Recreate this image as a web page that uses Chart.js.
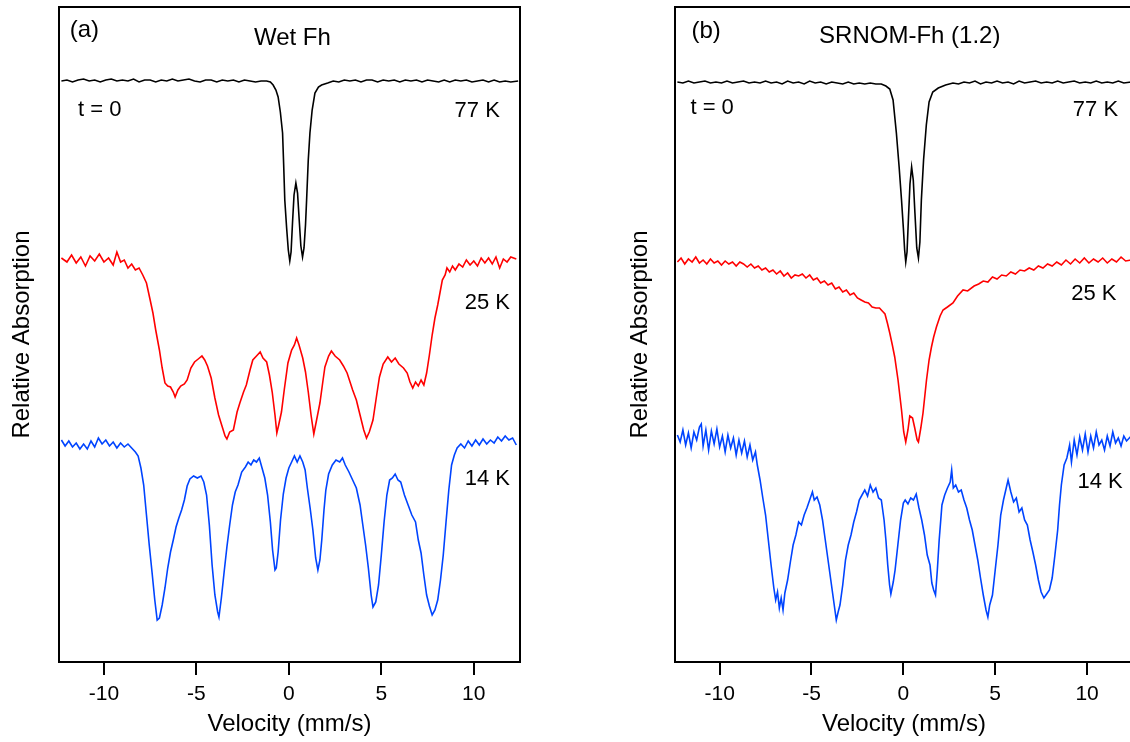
<!DOCTYPE html>
<html>
<head>
<meta charset="utf-8">
<script src="https://cdn.jsdelivr.net/npm/chart.js@4.4.1/dist/chart.umd.min.js"></script>
<style>
html,body{margin:0;padding:0;background:#fff;overflow:hidden;}
#wrap{position:relative;width:1130px;height:742px;overflow:hidden;background:#fff;}
.panel{position:absolute;top:0;height:742px;}
canvas{display:block;}
</style>
</head>
<body>
<div id="wrap">
  <div class="panel" style="left:0;width:560px"><canvas id="chartA" width="560" height="742"></canvas></div>
  <div class="panel" style="left:592px;width:590px"><canvas id="chartB" width="590" height="742"></canvas></div>
</div>
<script>
// ---------------- DATA (velocity mm/s, relative absorption with vertical offsets) ----------------
const tickValues = [-10, -5, 0, 5, 10];
const velocityRange = [-12.43, 12.5];
const absorptionRange = [0, 65.5];

// Panel (a) Wet Fh
const wet77K = [
[-12.3,58.1],[-12.0,58.2],[-11.7,58.0],[-11.4,58.2],[-11.1,58.3],[-10.8,58.1],[-10.5,58.2],[-10.2,58.0],[-9.9,58.2],[-9.6,58.3],[-9.3,58.1],[-9.0,58.2],[-8.7,58.1],[-8.4,58.3],[-8.1,58.0],[-7.8,58.2],[-7.5,58.2],[-7.2,58.0],[-6.9,58.2],[-6.6,58.1],[-6.3,58.3],[-6.0,58.1],[-5.7,58.2],[-5.4,58.3],[-5.1,58.1],[-4.8,58.0],[-4.5,58.2],[-4.2,58.2],[-3.9,58.0],[-3.6,58.2],[-3.3,58.1],[-3.0,58.2],[-2.7,58.0],[-2.4,58.2],[-2.1,58.1],[-1.8,58.0],[-1.5,58.1],
[-1.2,58.1],[-1.0,58.0],[-0.85,57.7],[-0.7,57.2],[-0.58,56.5],[-0.46,55.0],[-0.34,52.9],[-0.28,49.7],[-0.22,46.2],[-0.12,43.4],[-0.03,41.2],[0.05,40.1],[0.12,41.0],[0.2,44.0],[0.28,46.7],[0.38,47.9],[0.47,46.9],[0.56,44.2],[0.65,41.6],[0.74,40.5],[0.82,41.4],[0.9,43.7],[0.96,46.2],[1.05,50.2],[1.14,52.9],[1.26,55.2],[1.41,56.9],[1.6,57.5],[1.77,57.7],[2.1,57.9],
[2.4,58.1],[2.7,58.0],[3.0,58.2],[3.3,58.1],[3.6,58.2],[3.9,58.0],[4.2,58.2],[4.5,58.2],[4.8,58.0],[5.1,58.2],[5.4,58.1],[5.7,58.2],[6.0,58.0],[6.3,58.2],[6.6,58.1],[6.9,58.2],[7.2,58.0],[7.5,58.2],[7.8,58.1],[8.1,58.0],[8.4,58.2],[8.7,58.0],[9.0,58.2],[9.3,58.1],[9.6,58.2],[9.9,58.0],[10.2,58.1],[10.5,58.2],[10.8,58.0],[11.1,58.2],[11.4,58.0],[11.7,58.1],[12.0,58.0],[12.4,58.1]
];
const wet25K = [
[-12.3,40.4],[-12.0,40.0],[-11.75,40.7],[-11.5,39.9],[-11.25,40.5],[-11.0,39.6],[-10.75,40.6],[-10.5,40.1],[-10.25,40.8],[-10.0,40.0],[-9.75,40.4],[-9.5,39.7],[-9.3,41.0],[-9.1,40.0],[-8.9,40.2],[-8.7,39.4],[-8.5,39.8],[-8.3,39.2],[-8.1,39.4],[-7.9,38.7],[-7.7,37.9],[-7.5,36.2],[-7.35,34.9],[-7.2,33.2],[-7.0,31.2],[-6.85,29.4],[-6.7,27.9],[-6.55,27.6],[-6.4,27.5],[-6.25,27.0],[-6.15,26.5],[-6.0,27.2],[-5.85,27.6],[-5.65,27.8],[-5.5,28.2],[-5.3,29.4],[-5.1,30.0],[-4.9,30.3],[-4.7,30.6],[-4.55,30.2],[-4.4,29.6],[-4.2,28.4],[-4.0,26.4],[-3.8,24.7],[-3.6,23.5],[-3.45,22.6],[-3.35,22.3],[-3.2,23.0],[-3.0,23.2],[-2.8,25.0],[-2.65,25.9],[-2.45,27.0],[-2.3,27.7],[-2.1,29.2],[-1.95,30.2],[-1.75,30.6],[-1.55,31.0],[-1.4,30.4],[-1.2,30.0],[-1.05,28.7],[-0.9,27.0],[-0.75,24.7],[-0.65,22.9],[-0.55,23.7],[-0.4,25.0],[-0.25,27.2],[-0.05,29.9],[0.15,31.2],[0.3,31.7],[0.42,32.4],[0.55,31.7],[0.75,30.4],[0.9,29.0],[1.05,27.0],[1.2,24.7],[1.35,22.8],[1.5,24.2],[1.68,25.9],[1.85,28.2],[1.95,29.5],[2.15,30.6],[2.3,31.1],[2.5,30.6],[2.75,30.2],[2.95,29.6],[3.15,28.9],[3.45,27.2],[3.65,26.2],[3.85,24.7],[4.05,23.2],[4.2,22.4],[4.35,23.0],[4.55,24.2],[4.75,26.7],[4.9,28.5],[5.1,29.8],[5.35,30.5],[5.55,30.0],[5.75,30.4],[5.95,29.8],[6.2,29.4],[6.4,28.9],[6.55,28.0],[6.7,27.4],[6.85,28.0],[7.0,27.6],[7.15,28.2],[7.3,27.7],[7.45,28.9],[7.6,30.7],[7.75,32.7],[7.9,34.4],[8.05,35.7],[8.2,37.2],[8.3,38.2],[8.45,38.7],[8.55,39.4],[8.7,39.0],[8.85,39.6],[9.0,39.2],[9.2,39.8],[9.4,39.5],[9.6,40.2],[9.8,39.7],[10.0,40.1],[10.2,39.6],[10.4,40.4],[10.6,39.9],[10.8,40.4],[11.0,39.8],[11.2,40.5],[11.4,39.4],[11.6,40.3],[11.8,40.0],[12.0,40.5],[12.3,40.3]
];
const wet14K = [
[-12.3,22.2],[-12.1,21.6],[-11.9,22.1],[-11.7,21.5],[-11.5,21.9],[-11.3,21.3],[-11.1,21.8],[-10.9,21.3],[-10.7,22.1],[-10.5,21.5],[-10.3,22.4],[-10.1,21.8],[-9.9,22.2],[-9.7,21.6],[-9.5,22.0],[-9.3,21.4],[-9.1,21.9],[-8.9,21.5],[-8.7,21.8],[-8.5,21.4],[-8.3,21.0],[-8.15,20.6],[-8.0,19.4],[-7.85,17.7],[-7.7,14.7],[-7.55,11.7],[-7.4,9.0],[-7.25,6.2],[-7.12,4.2],[-7.0,4.4],[-6.85,5.7],[-6.7,7.4],[-6.55,9.4],[-6.4,11.0],[-6.25,12.2],[-6.1,13.5],[-5.95,14.4],[-5.8,15.2],[-5.65,16.2],[-5.5,17.6],[-5.35,18.3],[-5.15,18.6],[-4.95,18.4],[-4.75,18.6],[-4.6,18.0],[-4.45,16.7],[-4.3,13.7],[-4.15,9.7],[-4.0,6.7],[-3.85,5.0],[-3.78,4.5],[-3.65,6.4],[-3.5,9.0],[-3.35,11.5],[-3.2,13.7],[-3.05,15.7],[-2.9,17.0],[-2.75,17.7],[-2.55,19.0],[-2.35,19.5],[-2.2,20.0],[-2.05,19.7],[-1.9,20.2],[-1.75,20.0],[-1.6,20.4],[-1.45,19.4],[-1.3,18.4],[-1.15,16.7],[-1.0,14.0],[-0.88,11.2],[-0.75,9.2],[-0.68,9.4],[-0.58,11.0],[-0.45,14.2],[-0.3,16.8],[-0.15,18.4],[0.0,19.4],[0.15,20.0],[0.3,20.6],[0.45,20.0],[0.6,20.6],[0.75,20.0],[0.88,19.2],[1.0,17.4],[1.15,15.4],[1.3,13.2],[1.45,10.4],[1.57,9.2],[1.68,10.2],[1.78,12.2],[1.9,15.2],[2.0,17.2],[2.15,18.8],[2.35,19.7],[2.55,20.2],[2.75,20.0],[2.9,20.4],[3.05,19.7],[3.25,19.0],[3.45,18.2],[3.65,17.4],[3.85,15.7],[4.0,13.7],[4.15,11.7],[4.3,9.4],[4.45,6.7],[4.55,5.5],[4.7,6.0],[4.85,7.7],[5.0,10.7],[5.15,14.0],[5.3,16.7],[5.45,18.2],[5.6,18.4],[5.75,18.8],[5.9,18.2],[6.05,18.0],[6.25,16.7],[6.45,15.7],[6.65,14.7],[6.85,14.0],[7.0,12.2],[7.15,10.9],[7.3,8.7],[7.45,6.7],[7.6,5.6],[7.75,4.7],[7.9,5.2],[8.05,6.2],[8.2,8.2],[8.35,10.7],[8.5,14.0],[8.65,17.2],[8.8,19.7],[8.95,20.7],[9.1,21.4],[9.3,21.8],[9.5,21.4],[9.7,22.1],[9.9,21.6],[10.1,22.2],[10.3,21.7],[10.5,22.3],[10.7,21.8],[10.9,22.2],[11.1,21.9],[11.3,22.5],[11.5,22.1],[11.7,22.6],[11.9,22.2],[12.1,22.4],[12.3,21.7]
];

// Panel (b) SRNOM-Fh (1.2)
const srnom77K = [
[-12.3,58.0],[-12.0,57.9],[-11.7,58.1],[-11.4,57.9],[-11.1,58.0],[-10.8,58.1],[-10.5,57.9],[-10.2,58.0],[-9.9,57.9],[-9.6,58.1],[-9.3,57.9],[-9.0,58.0],[-8.7,58.1],[-8.4,57.9],[-8.1,58.0],[-7.8,57.9],[-7.5,58.1],[-7.2,57.9],[-6.9,58.0],[-6.6,57.8],[-6.3,58.1],[-6.0,57.9],[-5.7,58.0],[-5.4,57.8],[-5.1,58.1],[-4.8,57.9],[-4.5,58.0],[-4.2,57.8],[-3.9,58.0],[-3.6,57.9],[-3.3,57.8],[-3.0,58.0],[-2.7,57.8],[-2.4,57.9],[-2.1,57.8],[-1.8,57.9],[-1.5,57.8],
[-1.2,57.8],[-0.95,57.6],[-0.74,57.3],[-0.56,56.2],[-0.38,52.9],[-0.23,49.5],[-0.1,46.2],[0.0,43.4],[0.07,41.2],[0.13,40.0],[0.2,41.0],[0.28,44.5],[0.36,47.8],[0.45,49.5],[0.54,48.2],[0.63,44.9],[0.73,41.4],[0.82,40.4],[0.9,42.0],[0.98,46.2],[1.1,50.2],[1.25,53.7],[1.4,56.0],[1.6,57.0],[1.9,57.4],[2.3,57.7],
[2.7,57.9],[3.0,57.8],[3.3,58.0],[3.6,57.9],[3.9,58.1],[4.2,57.8],[4.5,58.0],[4.8,57.9],[5.1,58.1],[5.4,57.9],[5.7,58.0],[6.0,57.8],[6.3,58.1],[6.6,57.9],[6.9,58.0],[7.2,58.1],[7.5,57.9],[7.8,58.0],[8.1,57.9],[8.4,58.1],[8.7,57.9],[9.0,58.0],[9.3,58.1],[9.6,57.9],[9.9,58.0],[10.2,57.9],[10.5,58.1],[10.8,57.9],[11.1,58.0],[11.4,57.9],[11.7,58.1],[12.0,57.9],[12.4,58.0]
];
const srnom25K = [
[-12.3,40.0],[-12.1,40.4],[-11.9,39.8],[-11.7,40.3],[-11.5,40.0],[-11.3,40.5],[-11.1,39.9],[-10.9,40.2],[-10.7,39.8],[-10.5,40.3],[-10.3,39.9],[-10.1,40.1],[-9.9,39.7],[-9.7,40.1],[-9.5,39.8],[-9.3,40.0],[-9.1,39.6],[-8.9,40.0],[-8.7,39.8],[-8.5,39.5],[-8.3,39.8],[-8.1,39.4],[-7.9,39.6],[-7.7,39.2],[-7.5,39.4],[-7.3,39.0],[-7.1,39.2],[-6.9,38.8],[-6.7,39.1],[-6.5,38.6],[-6.3,38.9],[-6.1,38.4],[-5.9,38.7],[-5.7,38.6],[-5.5,38.8],[-5.3,38.4],[-5.1,38.7],[-4.9,38.2],[-4.7,38.4],[-4.5,37.9],[-4.3,38.1],[-4.1,37.7],[-3.9,37.9],[-3.7,37.3],[-3.5,37.5],[-3.3,37.0],[-3.1,37.2],[-2.9,36.7],[-2.7,36.9],[-2.5,36.4],[-2.3,36.2],[-2.1,36.0],[-1.9,35.9],[-1.7,35.5],[-1.5,35.4],[-1.3,35.4],[-1.15,35.1],[-1.0,34.8],[-0.87,33.9],[-0.74,32.9],[-0.6,31.7],[-0.47,30.5],[-0.29,28.2],[-0.1,25.2],[0.02,23.0],[0.13,22.0],[0.25,23.2],[0.35,24.6],[0.5,24.4],[0.62,23.4],[0.75,22.2],[0.82,22.0],[0.95,23.4],[1.07,24.9],[1.26,28.2],[1.4,30.2],[1.53,31.5],[1.65,32.5],[1.8,33.5],[2.0,34.6],[2.16,35.2],[2.4,35.5],[2.7,35.9],[2.95,36.6],[3.25,37.2],[3.5,37.1],[3.85,37.6],[4.1,37.8],[4.35,38.1],[4.6,38.0],[4.85,38.5],[5.1,38.3],[5.35,38.7],[5.6,38.6],[5.85,39.0],[6.1,38.8],[6.35,39.2],[6.6,39.1],[6.85,39.4],[7.1,39.2],[7.35,39.6],[7.6,39.4],[7.85,39.8],[8.1,39.6],[8.35,40.0],[8.6,39.7],[8.85,40.2],[9.1,39.8],[9.35,40.3],[9.6,39.9],[9.85,40.4],[10.1,39.9],[10.35,40.3],[10.6,40.0],[10.85,40.4],[11.1,39.9],[11.35,40.3],[11.6,40.0],[11.85,40.5],[12.1,40.1],[12.4,40.2]
];
const srnom14K = [
[-12.3,22.7],[-12.15,22.0],[-12.0,23.2],[-11.85,21.7],[-11.7,22.9],[-11.55,21.4],[-11.4,23.0],[-11.25,22.2],[-11.1,23.5],[-11.0,23.8],[-10.9,21.6],[-10.75,23.2],[-10.6,21.2],[-10.45,23.1],[-10.3,21.8],[-10.15,23.3],[-10.0,21.5],[-9.85,22.6],[-9.7,21.0],[-9.55,22.7],[-9.4,21.4],[-9.25,22.4],[-9.1,20.7],[-8.95,22.2],[-8.8,20.9],[-8.65,22.1],[-8.5,20.5],[-8.35,21.7],[-8.2,20.2],[-8.05,21.0],[-7.95,19.7],[-7.8,18.2],[-7.65,16.4],[-7.5,14.7],[-7.35,12.2],[-7.2,9.7],[-7.05,7.4],[-6.95,6.2],[-6.85,7.0],[-6.75,5.4],[-6.65,6.4],[-6.55,5.2],[-6.45,6.9],[-6.3,8.2],[-6.15,10.0],[-6.0,11.7],[-5.85,12.7],[-5.7,14.0],[-5.55,13.7],[-5.4,14.7],[-5.25,15.4],[-5.1,16.2],[-4.95,17.0],[-4.85,16.2],[-4.7,16.5],[-4.55,15.7],[-4.4,14.2],[-4.25,12.2],[-4.1,10.2],[-3.95,8.2],[-3.8,6.2],[-3.65,4.2],[-3.55,5.0],[-3.45,5.7],[-3.3,7.7],[-3.15,10.2],[-3.0,11.7],[-2.85,12.7],[-2.7,14.0],[-2.55,15.0],[-2.4,16.2],[-2.25,16.7],[-2.1,17.2],[-1.95,16.6],[-1.8,17.7],[-1.65,17.0],[-1.5,17.4],[-1.35,16.4],[-1.2,16.2],[-1.05,14.2],[-0.95,12.2],[-0.85,9.7],[-0.75,7.7],[-0.68,6.8],[-0.55,8.0],[-0.45,9.2],[-0.3,11.7],[-0.15,14.2],[0.0,15.9],[0.1,16.2],[0.25,15.8],[0.4,16.4],[0.55,16.2],[0.7,16.8],[0.85,15.4],[1.0,14.2],[1.15,12.7],[1.3,10.7],[1.45,9.7],[1.55,7.9],[1.65,7.2],[1.75,6.7],[1.85,9.2],[1.95,12.2],[2.1,15.7],[2.25,16.7],[2.4,17.4],[2.55,18.0],[2.63,19.2],[2.72,17.4],[2.85,17.7],[3.0,17.0],[3.15,17.2],[3.3,16.2],[3.45,15.4],[3.6,14.2],[3.75,13.2],[3.9,11.7],[4.05,10.2],[4.2,8.4],[4.35,6.7],[4.5,5.2],[4.6,4.5],[4.7,5.7],[4.85,6.7],[5.0,9.2],[5.15,11.7],[5.3,14.7],[5.45,16.2],[5.6,17.4],[5.7,18.2],[5.85,17.0],[6.0,16.0],[6.15,16.4],[6.3,15.0],[6.45,15.4],[6.6,14.2],[6.75,13.7],[6.9,12.2],[7.05,11.0],[7.2,9.7],[7.35,8.2],[7.5,7.0],[7.65,6.4],[7.8,6.8],[7.95,7.2],[8.1,8.4],[8.25,10.7],[8.4,13.2],[8.5,15.7],[8.6,17.7],[8.75,19.7],[8.9,20.4],[9.05,21.7],[9.15,20.0],[9.3,22.2],[9.45,20.7],[9.6,22.5],[9.75,21.2],[9.9,22.8],[10.05,21.0],[10.2,22.6],[10.35,21.4],[10.5,23.0],[10.65,21.7],[10.8,22.2],[10.95,21.2],[11.1,22.6],[11.25,21.6],[11.4,23.0],[11.55,21.9],[11.7,22.4],[11.85,21.6],[12.0,22.6],[12.15,22.1],[12.4,22.6]
];

// ---------------- STYLE / LAYOUT ----------------
const FONT = "'Liberation Sans', Arial, Helvetica, sans-serif";
const COLORS = { k77: '#000000', k25: '#ff0000', k14: '#0044ff' };

const framePlugin = {
  id: 'frame',
  afterDatasetsDraw(chart) {
    const a = chart.chartArea, ctx = chart.ctx;
    ctx.save();
    ctx.strokeStyle = '#000';
    ctx.lineWidth = 2;
    ctx.strokeRect(a.left, a.top, a.right - a.left, a.bottom - a.top);
    ctx.restore();
  }
};
const labelPlugin = {
  id: 'labels',
  afterDraw(chart, args, opts) {
    const ctx = chart.ctx, xs = chart.scales.x, ys = chart.scales.y;
    ctx.save();
    ctx.fillStyle = '#000';
    ctx.textBaseline = 'alphabetic';
    for (const it of opts.items) {
      ctx.font = it.size + 'px ' + FONT;
      ctx.textAlign = it.align;
      ctx.fillText(it.text, xs.getPixelForValue(it.x), ys.getPixelForValue(it.y));
    }
    ctx.restore();
  }
};

function toPoints(arr) { return arr.map(p => ({ x: p[0], y: p[1] })); }

function makeChart(id, series, layout, labels) {
  return new Chart(document.getElementById(id), {
    type: 'line',
    data: {
      datasets: series.map(s => ({
        data: toPoints(s.data), borderColor: s.color, borderWidth: 1.6,
        pointRadius: 0, tension: 0, fill: false
      }))
    },
    options: {
      responsive: false, animation: false, devicePixelRatio: 1,
      layout: { padding: { left: layout.padLeft, right: layout.padRight, top: 7, bottom: 0 } },
      plugins: { legend: { display: false }, tooltip: { enabled: false }, labels: { items: labels } },
      scales: {
        x: {
          type: 'linear', min: velocityRange[0], max: velocityRange[1],
          afterFit(s) { s.height = 80; },
          afterBuildTicks(s) { s.ticks = tickValues.map(v => ({ value: v })); },
          ticks: { color: '#000', font: { family: FONT, size: 21 }, padding: 7, maxRotation: 0, autoSkip: false,
                   callback: v => String(v) },
          grid: { display: true, drawOnChartArea: false, drawTicks: true, tickLength: 13, tickWidth: 2, tickColor: '#000', color: '#000', lineWidth: 2 },
          border: { display: false },
          title: { display: true, text: 'Velocity (mm/s)', color: '#000', font: { family: FONT, size: 24 }, padding: { top: 0, bottom: 3 } }
        },
        y: {
          type: 'linear', min: absorptionRange[0], max: absorptionRange[1],
          afterFit(s) { s.width = layout.yWidth; },
          ticks: { display: false },
          grid: { display: false },
          border: { display: false },
          title: { display: true, text: 'Relative Absorption', color: '#000', font: { family: FONT, size: 24 }, padding: { top: 8, bottom: 0 } }
        }
      }
    },
    plugins: [framePlugin, labelPlugin]
  });
}

makeChart('chartA',
  [ { data: wet77K, color: COLORS.k77 }, { data: wet25K, color: COLORS.k25 }, { data: wet14K, color: COLORS.k14 } ],
  { padLeft: 0, padRight: 40, yWidth: 59 },
  [
    { text: '(a)', x: -11.85, y: 62.5, align: 'left', size: 24 },
    { text: 'Wet Fh', x: 0.19, y: 61.7, align: 'center', size: 24 },
    { text: 't = 0', x: -11.4, y: 54.6, align: 'left', size: 22 },
    { text: '77 K', x: 11.41, y: 54.5, align: 'right', size: 22 },
    { text: '25 K', x: 11.96, y: 35.3, align: 'right', size: 22 },
    { text: '14 K', x: 11.96, y: 17.7, align: 'right', size: 22 }
  ]);

makeChart('chartB',
  [ { data: srnom77K, color: COLORS.k77 }, { data: srnom25K, color: COLORS.k25 }, { data: srnom14K, color: COLORS.k14 } ],
  { padLeft: 26, padRight: 49, yWidth: 57 },
  [
    { text: '(b)', x: -11.53, y: 62.4, align: 'left', size: 24 },
    { text: 'SRNOM-Fh (1.2)', x: 0.35, y: 61.9, align: 'center', size: 24 },
    { text: 't = 0', x: -11.59, y: 54.8, align: 'left', size: 22 },
    { text: '77 K', x: 11.69, y: 54.6, align: 'right', size: 22 },
    { text: '25 K', x: 11.6, y: 36.2, align: 'right', size: 22 },
    { text: '14 K', x: 11.94, y: 17.4, align: 'right', size: 22 }
  ]);
</script>
</body>
</html>
